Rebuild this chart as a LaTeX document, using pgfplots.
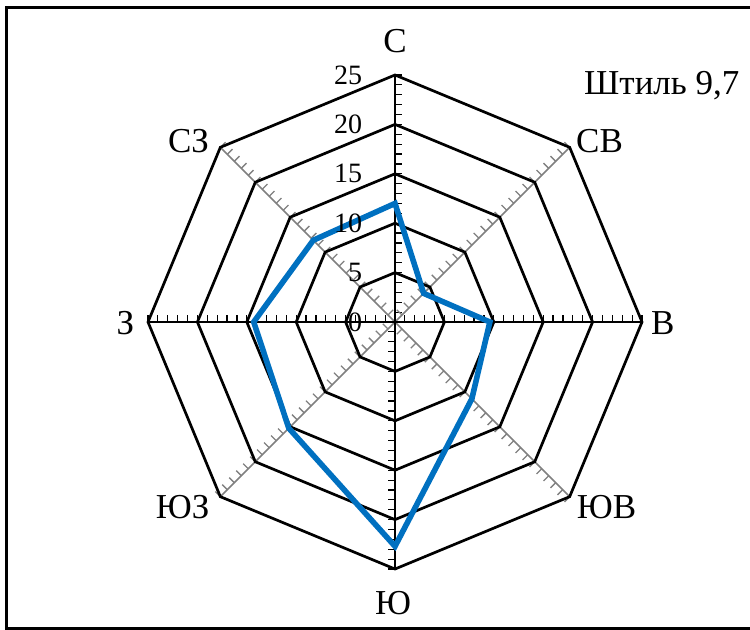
\documentclass[border=0pt]{standalone}
\usepackage{fontspec}
\setmainfont{Liberation Serif}
\usepackage{pgfplots}
\pgfplotsset{compat=1.18}
\definecolor{windblue}{RGB}{0,112,192}
\definecolor{spokegray}{RGB}{128,128,128}
\begin{document}
\begin{tikzpicture}
\begin{axis}[
  scale only axis, width=375pt, height=315pt,
  xmin=-39.98, xmax=35.93, ymin=-31.17, ymax=32.59,
  hide axis,
]
\path (rel axis cs:0,0) rectangle (rel axis cs:1,1);
% frame
\draw[line width=1.5pt] (axis cs:35.93,31.88) -- (axis cs:-39.37,31.88) -- (axis cs:-39.37,-30.97) -- (axis cs:35.93,-30.97);
% spokes
\addplot[spokegray, line width=0.8pt] coordinates {(-17.68,-17.68) (17.68,17.68)};
\addplot[spokegray, line width=0.8pt] coordinates {(-17.68,17.68) (17.68,-17.68)};
\addplot[black, line width=0.8pt] coordinates {(0,-25) (0,25)};
\addplot[black, line width=0.8pt] coordinates {(-25,0) (25,0)};
% ticks
\pgfplotsinvokeforeach{1,...,25}{
  \draw[black, line width=0.6pt] (axis cs:0,#1) -- (axis cs:0.72,#1);
  \draw[black, line width=0.6pt] (axis cs:0,-#1) -- (axis cs:-0.72,-#1);
  \draw[black, line width=0.6pt] (axis cs:#1,0) -- (axis cs:#1,0.72);
  \draw[black, line width=0.6pt] (axis cs:-#1,0) -- (axis cs:-#1,0.72);
  \draw[spokegray, line width=0.65pt] (axis cs:{0.7071*#1},{0.7071*#1}) -- (axis cs:{0.7071*#1-0.52},{0.7071*#1+0.52});
  \draw[spokegray, line width=0.65pt] (axis cs:{-0.7071*#1},{-0.7071*#1}) -- (axis cs:{-0.7071*#1-0.52},{-0.7071*#1+0.52});
  \draw[spokegray, line width=0.65pt] (axis cs:{0.7071*#1},{-0.7071*#1}) -- (axis cs:{0.7071*#1-0.52},{-0.7071*#1-0.52});
  \draw[spokegray, line width=0.65pt] (axis cs:{-0.7071*#1},{0.7071*#1}) -- (axis cs:{-0.7071*#1+0.52},{0.7071*#1+0.52});
}
% octagonal rings
\pgfplotsinvokeforeach{5,10,15,20,25}{
  \addplot[black, line width=1.35pt, line join=miter, data cs=polar] coordinates
    {(0,#1) (45,#1) (90,#1) (135,#1) (180,#1) (225,#1) (270,#1) (315,#1) (360,#1)} -- cycle;
}
% wind data
\addplot[windblue, line width=2.8pt, line join=miter, data cs=polar] coordinates {
  (90,12.0) (45,4.1) (0,9.6) (-45,11.0) (-90,22.7) (-135,15.2) (180,14.3) (135,11.7) (90,12.0)
} -- cycle;
% ring labels
\pgfplotsinvokeforeach{0,5,10,15,20,25}{
  \node[anchor=east, inner sep=0pt, font=\fontsize{14}{16}\selectfont] at (axis cs:-3.3,#1) {#1};
}
% direction labels
\begin{scope}[every node/.style={inner sep=0pt, font=\fontsize{17.5}{20}\selectfont}]
\node at (axis cs:0,28.4) {С};
\node at (axis cs:20.7,18.3) {СВ};
\node at (axis cs:27.1,-0.1) {В};
\node at (axis cs:21.4,-18.7) {ЮВ};
\node at (axis cs:-0.2,-28.4) {Ю};
\node at (axis cs:-21.5,-18.7) {ЮЗ};
\node at (axis cs:-27.3,-0.1) {З};
\node at (axis cs:-20.9,18.3) {СЗ};
\node[anchor=base east] at (axis cs:34.9,23.0) {Штиль 9,7};
\end{scope}
\end{axis}
\end{tikzpicture}
\end{document}
